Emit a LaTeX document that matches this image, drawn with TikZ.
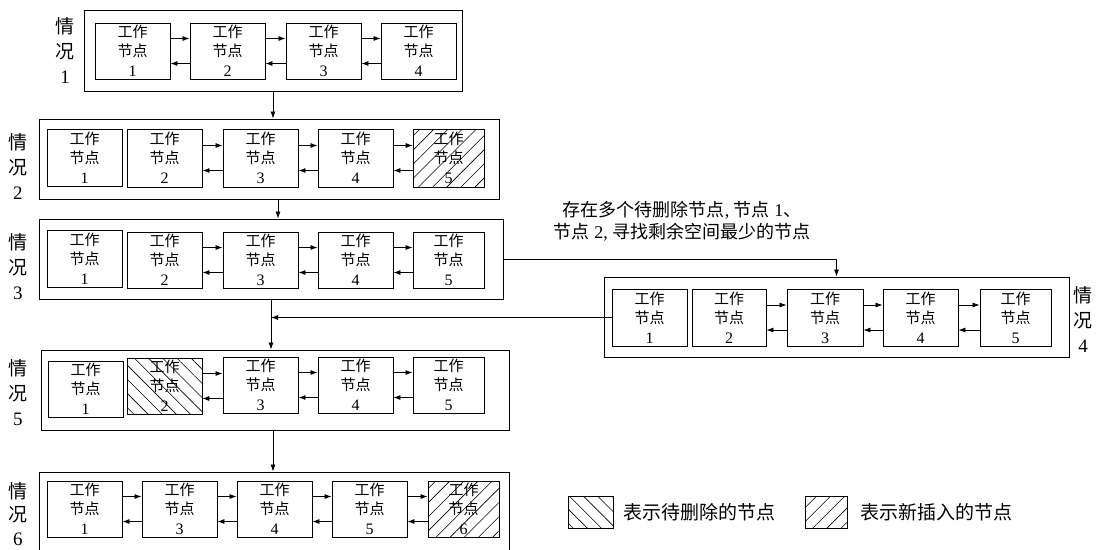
\documentclass[tikz,border=0pt]{standalone}
\usepackage{fontspec}
\setmainfont{Liberation Serif}
\newfontfamily\cjk{Noto Sans CJK SC}
\usetikzlibrary{arrows.meta,patterns.meta}
\tikzset{
 box/.style={draw, line width=0.9pt, inner sep=0pt, align=center, font=\cjk\fontsize{15}{19}\selectfont},
 outer/.style={draw, line width=0.9pt, inner sep=0pt},
 arr/.style={line width=0.8pt, -{Latex[length=7pt,width=5pt]}},
 newh/.style={pattern={Lines[angle=45,distance=10pt,line width=0.6pt]}},
 delh/.style={pattern={Lines[angle=-45,distance=10pt,line width=0.6pt]}},
 case/.style={align=center, font=\cjk\fontsize{19}{25}\selectfont, inner sep=0pt},
}
\newcommand\wbox[7][]{\node[box,#1,minimum width={#5-#3},minimum height={#6-#4}] (#2) at ({(#3+#5)/2},{(#4+#6)/2}) {工作\\节点\\[1pt]{\rmfamily\fontsize{16}{19}\selectfont #7}};}
\newcommand\obox[5]{\node[outer,minimum width={#4-#2},minimum height={#5-#3}] (#1) at ({(#2+#4)/2},{(#3+#5)/2}) {};}
\newcommand\lk[2]{\coordinate (tA) at ([yshift=12.5pt]#1.east); \coordinate (tB) at ([yshift=-12.5pt]#1.east);
 \draw[arr] (tA) -- (tA -| #2.west); \draw[arr] (tB -| #2.west) -- (tB);}
\begin{document}
\begin{tikzpicture}[x=1pt,y=-1pt]
\useasboundingbox (0,0) rectangle (1097,549);
\clip (0,0) rectangle (1097,549);
% outer frames
\obox{o1}{84}{10}{462}{91}
\obox{o2}{39}{119}{499}{199}
\obox{o3}{39}{219}{503}{299}
\obox{o4}{604}{277}{1069}{357}
\obox{o5}{41}{350}{509}{430}
\obox{o6}{39}{472}{509}{562}
% case labels
\node[case] (lab1) at (65,51) {情\\况\\{\rmfamily 1}};
\node[case] (lab2) at (18,167) {情\\况\\{\rmfamily 2}};
\node[case] (lab3) at (18,267) {情\\况\\{\rmfamily 3}};
\node[case] (lab4) at (1083,320) {情\\况\\{\rmfamily 4}};
\node[case] (lab5) at (18,393) {情\\况\\{\rmfamily 5}};
\node[case, font=\cjk\fontsize{19}{23.5}\selectfont] (lab6) at (18,514) {情\\况\\{\rmfamily 6}};
% row 1
\wbox{r1b1}{95}{23}{170}{79}{1}
\wbox{r1b2}{190}{23}{265}{79}{2}
\wbox{r1b3}{286}{23}{361}{79}{3}
\wbox{r1b4}{381}{23}{456}{79}{4}
\lk{r1b1}{r1b2}\lk{r1b2}{r1b3}\lk{r1b3}{r1b4}
% row 2
\wbox{r2b1}{47}{129}{122}{186}{1}
\wbox{r2b2}{127}{129}{202}{187}{2}
\wbox{r2b3}{223}{129}{298}{187}{3}
\wbox{r2b4}{318}{129}{393}{187}{4}
\wbox[newh]{r2b5}{413}{129}{484}{187}{5}
\lk{r2b2}{r2b3}\lk{r2b3}{r2b4}\lk{r2b4}{r2b5}
% row 3
\wbox{r3b1}{47}{230}{122}{287}{1}
\wbox{r3b2}{127}{232}{202}{288}{2}
\wbox{r3b3}{223}{232}{298}{288}{3}
\wbox{r3b4}{318}{232}{393}{288}{4}
\wbox{r3b5}{413}{232}{484}{288}{5}
\lk{r3b2}{r3b3}\lk{r3b3}{r3b4}\lk{r3b4}{r3b5}
% row 4
\wbox{r4b1}{612}{289}{687}{346}{1}
\wbox{r4b2}{692}{289}{766}{346}{2}
\wbox{r4b3}{787}{289}{863}{346}{3}
\wbox{r4b4}{883}{289}{958}{346}{4}
\wbox{r4b5}{980}{289}{1051}{346}{5}
\lk{r4b2}{r4b3}\lk{r4b3}{r4b4}\lk{r4b4}{r4b5}
% row 5
\wbox{r5b1}{48}{361}{123}{417}{1}
\wbox[delh]{r5b2}{127}{358}{202}{414}{2}
\wbox{r5b3}{223}{357}{298}{413}{3}
\wbox{r5b4}{318}{357}{393}{413}{4}
\wbox{r5b5}{413}{357}{484}{413}{5}
\lk{r5b2}{r5b3}\lk{r5b3}{r5b4}\lk{r5b4}{r5b5}
% row 6
\wbox{r6b1}{47}{481}{122}{537}{1}
\wbox{r6b2}{142}{481}{217}{537}{3}
\wbox{r6b3}{237}{481}{312}{537}{4}
\wbox{r6b4}{332}{481}{407}{537}{5}
\wbox[newh]{r6b5}{428}{481}{499}{537}{6}
\lk{r6b1}{r6b2}\lk{r6b2}{r6b3}\lk{r6b3}{r6b4}\lk{r6b4}{r6b5}
% connectors between frames
\draw[arr] (o1.south) -- (o1.south |- o2.north);
\coordinate (c23) at ([xshift=9pt]o2.south);
\draw[arr] (c23) -- (c23 |- o3.north);
\draw[arr] (o3.east) -| (o4.north);
\draw[arr] (o3.south) -- (o3.south |- o5.north);
\draw[arr] (r4b1.west) -- (r4b1.west -| o3.south);
\coordinate (c56) at ([xshift=-2pt]o5.south);
\draw[arr] (c56) -- (c56 |- o6.north);
% annotation
\node[align=center, inner sep=0pt, font=\fontsize{18}{22}\selectfont] (note) at (682,221)
 {{\cjk 存在多个待删除节点}, {\cjk 节点} 1{\cjk 、}\\{\cjk 节点} 2, {\cjk 寻找剩余空间最少的节点}};
% legend
\node[draw, line width=0.9pt, delh, inner sep=0pt, minimum width=45, minimum height=32] (lg1) at (590.5,512) {};
\node[anchor=west, inner sep=0pt, font=\cjk\fontsize{19}{22}\selectfont] (lt1) at (623,512) {表示待删除的节点};
\node[draw, line width=0.9pt, newh, inner sep=0pt, minimum width=42, minimum height=32] (lg2) at (826,512) {};
\node[anchor=west, inner sep=0pt, font=\cjk\fontsize{19}{22}\selectfont] (lt2) at (860,512) {表示新插入的节点};
\end{tikzpicture}
\end{document}
